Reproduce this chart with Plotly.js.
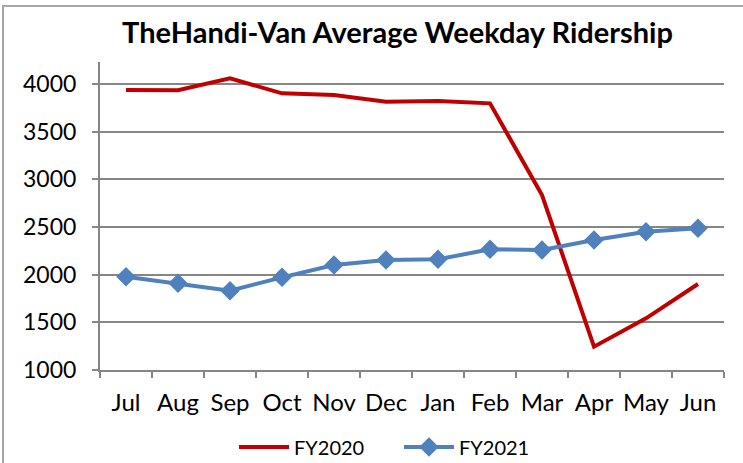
<!DOCTYPE html>
<html>
<head>
<meta charset="utf-8">
<script src="https://cdn.plot.ly/plotly-3.0.1.min.js"></script>
<style>
html,body{margin:0;padding:0;background:#fff;}
#chart{position:absolute;left:0;top:0;width:743px;height:463px;}
#frame{position:absolute;left:2px;top:5px;width:741px;height:458px;border-left:2px solid #a6a6a6;border-top:2px solid #a6a6a6;box-sizing:border-box;pointer-events:none;}
</style>
</head>
<body>
<div id="chart"></div>
<div id="frame"></div>
<script>
const months = ["Jul","Aug","Sep","Oct","Nov","Dec","Jan","Feb","Mar","Apr","May","Jun"];
const fy2020 = [3937, 3935, 4060, 3902, 3885, 3815, 3822, 3797, 2836, 1245, 1542, 1902];
const fy2021 = [1979, 1909, 1832, 1972, 2101, 2154, 2161, 2266, 2259, 2364, 2451, 2486];
const yTicks = [1000, 1500, 2000, 2500, 3000, 3500, 4000];

const FONT = "Lato, 'Open Sans', sans-serif";
const traces = [
  {x: months, y: fy2020, name: "FY2020", type: "scatter", mode: "lines",
   line: {color: "#C00000", width: 4}},
  {x: months, y: fy2021, name: "FY2021", type: "scatter", mode: "lines+markers",
   line: {color: "#4F81BD", width: 4},
   marker: {symbol: "diamond", size: 15, color: "#4F81BD"}}
];
const layout = {
  width: 743, height: 463,
  margin: {l: 100, r: 19, t: 62, b: 93},
  paper_bgcolor: "#fff", plot_bgcolor: "#fff",
  font: {family: FONT, color: "#000", size: 20},
  title: {text: "<b>TheHandi-Van Average Weekday Ridership</b>",
          font: {family: FONT, size: 29, color: "#000"},
          x: 0.535, xref: "container", xanchor: "center",
          y: 0.929, yref: "container", yanchor: "middle"},
  xaxis: {type: "category", tickson: "boundaries", ticks: "outside", ticklen: 6,
          tickcolor: "#868686", tickwidth: 2, showline: true, linecolor: "#868686", linewidth: 2,
          showgrid: false, tickfont: {size: 24, family: FONT}, ticklabelstandoff: 10,
          tickangle: 0, range: [-0.5, 11.5], fixedrange: true},
  yaxis: {range: [1000, 4231], tickvals: yTicks, ticktext: yTicks.map(String),
          ticks: "outside", ticklen: 6, tickcolor: "#868686", tickwidth: 2,
          showline: true, linecolor: "#868686", linewidth: 2,
          showgrid: true, gridcolor: "#868686", gridwidth: 2, zeroline: false,
          tickfont: {size: 23, family: FONT}, ticklabelstandoff: 11},
  showlegend: true,
  legend: {orientation: "h", xref: "container", yref: "container",
           x: 0.537, xanchor: "center", y: 0.0346, yanchor: "middle",
           font: {size: 20, family: FONT}, itemwidth: 50, entrywidth: 100, tracegroupgap: 0}
};
Plotly.newPlot("chart", traces, layout, {displayModeBar: false, staticPlot: true});
</script>
</body>
</html>
